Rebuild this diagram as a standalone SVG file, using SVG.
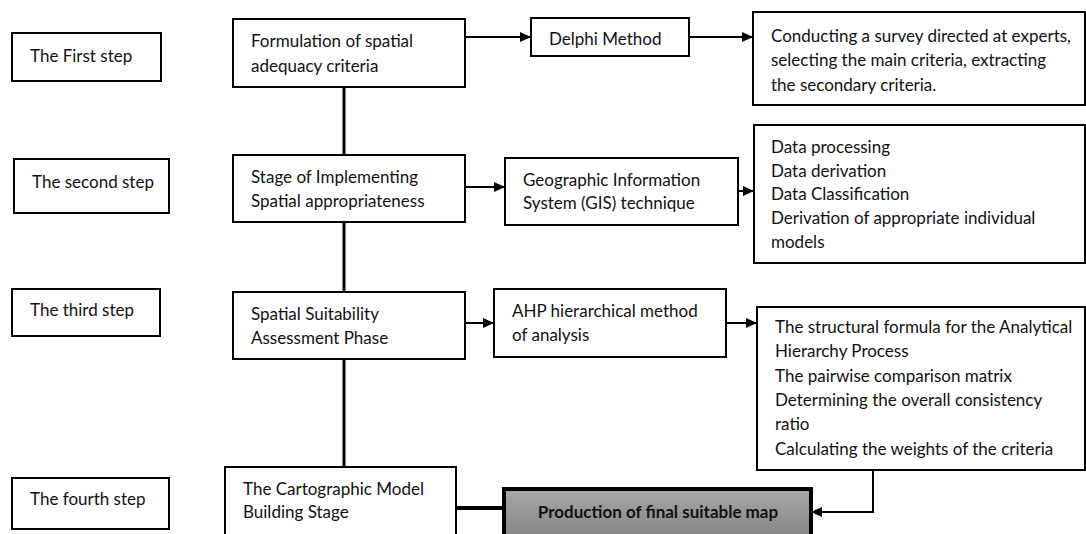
<svg xmlns="http://www.w3.org/2000/svg" width="1086" height="534" viewBox="0 0 1086 534">
<style>
.box{fill:#fff;stroke:#000;stroke-width:2}
.t{font-family:Lato,"Liberation Sans",sans-serif;font-size:17px;fill:#111}
.b{font-weight:bold}
.conn{fill:none;stroke:#000;stroke-width:2}
.thick{fill:none;stroke:#000;stroke-width:3}
</style>
<defs>
<marker id="ah" markerWidth="11" markerHeight="10" refX="11" refY="5" orient="auto" markerUnits="userSpaceOnUse">
<path d="M0,0 L11,5 L0,10 Z" fill="#000"/>
</marker>
<linearGradient id="gray" x1="0" y1="0" x2="0" y2="1">
<stop offset="0" stop-color="#a8a8a8"/>
<stop offset="1" stop-color="#7c7c7c"/>
</linearGradient>
</defs>
<rect width="1086" height="534" fill="#fff"/>

<g id="connectors">
<line class="thick" x1="344" y1="87" x2="344" y2="155"/>
<line class="thick" x1="344" y1="222" x2="344" y2="292"/>
<line class="thick" x1="344" y1="359" x2="344" y2="467"/>
<line class="conn" x1="465" y1="37" x2="531" y2="37" marker-end="url(#ah)"/>
<line class="conn" x1="689" y1="37" x2="753" y2="37" marker-end="url(#ah)"/>
<line class="conn" x1="465" y1="187" x2="505" y2="187" marker-end="url(#ah)"/>
<line class="conn" x1="738" y1="191" x2="754" y2="191" marker-end="url(#ah)"/>
<line class="conn" x1="465" y1="323" x2="494" y2="323" marker-end="url(#ah)"/>
<line class="conn" x1="726" y1="323" x2="757" y2="323" marker-end="url(#ah)"/>
<path class="conn" d="M873,470 V512 H811" marker-end="url(#ah)"/>
<line stroke="#000" stroke-width="4" x1="456" y1="508" x2="504" y2="508"/>
</g>

<g id="step1"><rect class="box" x="12" y="33" width="149" height="48"/><text class="t" x="30" y="62">The First step</text></g>
<g id="step2"><rect class="box" x="14" y="159" width="155" height="54"/><text class="t" x="32" y="188">The second step</text></g>
<g id="step3"><rect class="box" x="12" y="289" width="148" height="47"/><text class="t" x="30" y="316">The third step</text></g>
<g id="step4"><rect class="box" x="12" y="478" width="157" height="51"/><text class="t" x="30" y="505">The fourth step</text></g>

<g id="formulation"><rect class="box" x="233" y="19" width="232" height="68"/>
<text class="t" x="251" y="47">Formulation of spatial</text><text class="t" x="251" y="72">adequacy criteria</text></g>
<g id="stage"><rect class="box" x="233" y="155" width="232" height="67"/>
<text class="t" x="251" y="183">Stage of Implementing</text><text class="t" x="251" y="207">Spatial appropriateness</text></g>
<g id="assessment"><rect class="box" x="233" y="292" width="232" height="67"/>
<text class="t" x="251" y="320">Spatial Suitability</text><text class="t" x="251" y="344">Assessment Phase</text></g>
<g id="cartographic"><rect class="box" x="225" y="467" width="231" height="80"/>
<text class="t" x="243" y="495">The Cartographic Model</text><text class="t" x="243" y="518">Building Stage</text></g>

<g id="delphi"><rect class="box" x="531" y="18" width="158" height="38"/>
<text class="t" x="549" y="45">Delphi Method</text></g>
<g id="gis"><rect class="box" x="505" y="158" width="233" height="67"/>
<text class="t" x="523" y="186">Geographic Information</text><text class="t" x="523" y="209">System (GIS) technique</text></g>
<g id="ahp"><rect class="box" x="494" y="289" width="232" height="68"/>
<text class="t" x="512" y="317">AHP hierarchical method</text><text class="t" x="512" y="341">of analysis</text></g>
<g id="production"><rect x="504" y="489" width="307" height="60" fill="url(#gray)" stroke="#000" stroke-width="4"/>
<text class="t b" x="658" y="518" text-anchor="middle">Production of final suitable map</text></g>

<g id="survey"><rect class="box" x="753" y="12" width="332" height="93"/>
<text class="t" x="771" y="42">Conducting a survey directed at experts,</text>
<text class="t" x="771" y="66">selecting the main criteria, extracting</text>
<text class="t" x="771" y="91">the secondary criteria.</text></g>
<g id="gisdata"><rect class="box" x="754" y="125" width="331" height="138"/>
<text class="t" x="771" y="153">Data processing</text>
<text class="t" x="771" y="177">Data derivation</text>
<text class="t" x="771" y="200">Data Classification</text>
<text class="t" x="771" y="224">Derivation of appropriate individual</text>
<text class="t" x="771" y="248">models</text></g>
<g id="ahpdata"><rect class="box" x="757" y="307" width="328" height="163"/>
<text class="t" x="775" y="333">The structural formula for the Analytical</text>
<text class="t" x="775" y="357">Hierarchy Process</text>
<text class="t" x="775" y="382">The pairwise comparison matrix</text>
<text class="t" x="775" y="406">Determining the overall consistency</text>
<text class="t" x="775" y="430">ratio</text>
<text class="t" x="775" y="455">Calculating the weights of the criteria</text></g>
</svg>
